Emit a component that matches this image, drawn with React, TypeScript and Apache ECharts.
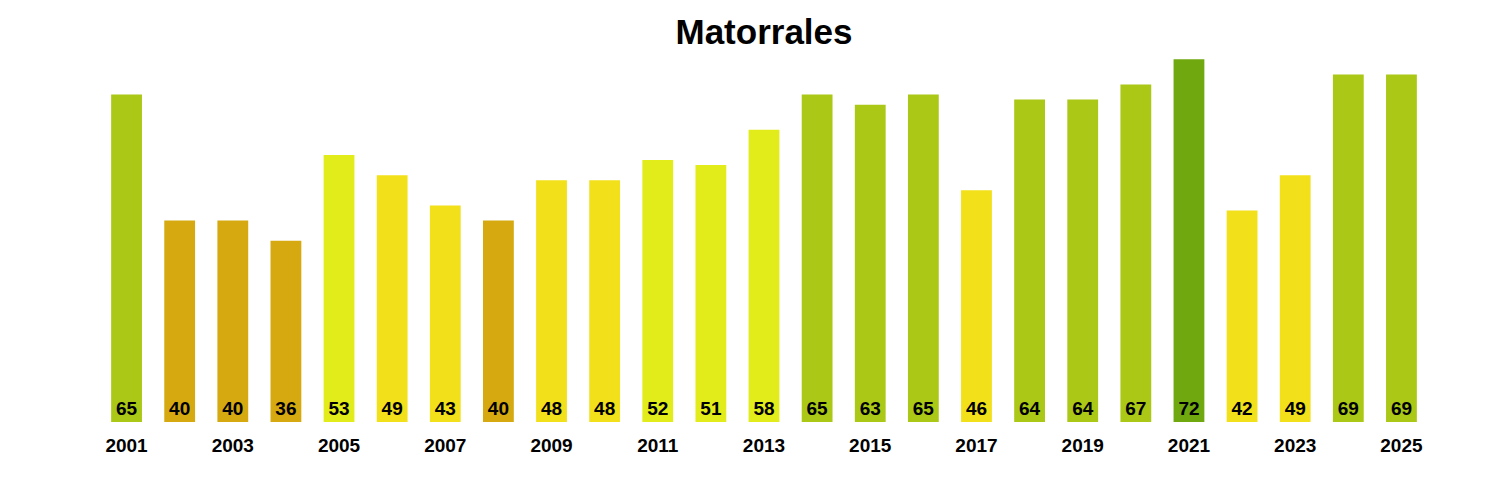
import React, { useEffect, useRef } from "react";
import * as echarts from "echarts";

const years = [
  "2001", "2002", "2003", "2004", "2005", "2006", "2007", "2008", "2009", "2010",
  "2011", "2012", "2013", "2014", "2015", "2016", "2017", "2018", "2019", "2020",
  "2021", "2022", "2023", "2024", "2025",
];
const values = [65, 40, 40, 36, 53, 49, 43, 40, 48, 48, 52, 51, 58, 65, 63, 65, 46, 64, 64, 67, 72, 42, 49, 69, 69];

const colorFor = (v: number) => {
  if (v >= 70) return "#6FA80F";
  if (v >= 60) return "#AAC815";
  if (v >= 50) return "#E2EC1A";
  if (v >= 42) return "#F2E01A";
  return "#D6A911";
};

const FONT = "Liberation Sans, Arial, sans-serif";

export default function App() {
  const ref = useRef<HTMLDivElement>(null);
  useEffect(() => {
    if (!ref.current) return;
    const chart = echarts.init(ref.current, undefined, { renderer: "svg" });
    chart.setOption({
      animation: false,
      textStyle: { fontFamily: FONT },
      title: {
        text: "Matorrales",
        left: 751,
        textAlign: "center",
        top: 1,
        textStyle: { fontSize: 35, fontWeight: "bold", color: "#000", fontFamily: FONT },
      },
      grid: { left: 92, right: 64, top: 11, bottom: 70 },
      xAxis: {
        type: "category",
        data: years,
        axisLine: { show: false },
        axisTick: { show: false },
        axisLabel: {
          interval: 1,
          margin: 14,
          fontSize: 19,
          fontWeight: "bold",
          color: "#000",
          fontFamily: FONT,
        },
      },
      yAxis: { type: "value", min: 0, max: 80, show: false, splitLine: { show: false } },
      series: [
        {
          type: "bar",
          barWidth: "58%",
          data: values.map((v) => ({ value: v, itemStyle: { color: colorFor(v) } })),
          label: {
            show: true,
            position: "insideBottom",
            distance: 4,
            fontSize: 19,
            fontWeight: "bold",
            color: "#000",
            fontFamily: FONT,
          },
        },
      ],
    });
    return () => chart.dispose();
  }, []);
  return <div ref={ref} style={{ width: 1484, height: 484 }} />;
}
